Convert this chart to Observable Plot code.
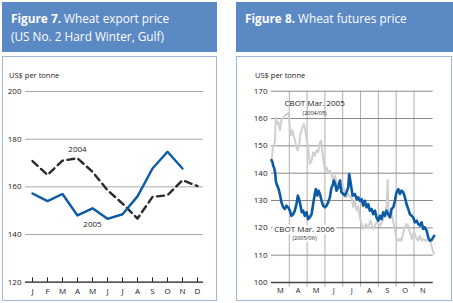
<!DOCTYPE html>
<html><head><meta charset="utf-8">
<script src="https://cdn.jsdelivr.net/npm/d3@7"></script>
<script src="https://cdn.jsdelivr.net/npm/@observablehq/plot@0.6"></script>
<style>
body{margin:0;background:#fff;font-family:"Open Sans",sans-serif;}
#page{position:relative;width:453px;height:303px;overflow:hidden;}
.hdr{position:absolute;background:#5b89c3;color:#fff;font-size:11.8px;line-height:18px;padding:7px 0 0 9px;box-sizing:border-box;}
.hdr b{font-weight:700;}
.box{position:absolute;border:1.5px solid #9db9dd;box-sizing:border-box;}
.unit{position:absolute;font-size:7.5px;color:#222;}
.chart{position:absolute;top:0;}
</style></head>
<body><div id="page">
<div class="hdr" style="left:2px;top:2px;width:215px;height:50px"><b>Figure 7.</b> Wheat export price<br>(US No. 2 Hard Winter, Gulf)</div>
<div class="hdr" style="left:236px;top:2px;width:217px;height:50px"><b>Figure 8.</b> Wheat futures price</div>
<div class="box" style="left:2px;top:56px;width:215px;height:245px"></div>
<div class="box" style="left:236px;top:56px;width:216px;height:245px"></div>
<div class="unit" style="left:9px;top:70px">US$ per tonne</div>
<div class="unit" style="left:255px;top:70px">US$ per tonne</div>
<div id="c1" class="chart" style="left:0"></div>
<div id="c2" class="chart" style="left:226px"></div>
</div>
<script>
// Figure 7 data
const months = ["J","F","M","A","M2","J2","J3","A2","S","O","N","D"];
const monthLabels = ["J","F","M","A","M","J","J","A","S","O","N","D"];
const price2004 = [170.8, 165, 171, 172, 166.3, 158.6, 153, 146.7, 155.8, 156.5, 162.8, 160.3];
const price2005 = [157.2, 154, 157, 148, 151, 146.6, 148.5, 156, 167.7, 174.7, 167.7, null];
const yTicks7 = [120, 140, 160, 180, 200];

// Figure 8 data (t = months since 1 March)
const grayT = [0.00,0.09,0.19,0.24,0.32,0.39,0.47,0.56,0.69,0.84,0.94,1.03,1.10,1.18,1.27,1.37,1.46,1.55,1.63,1.74,1.82,1.89,1.97,2.06,2.15,2.25,2.34,2.43,2.53,2.62,2.72,2.79,2.87,2.94,3.01,3.09,3.18,3.28,3.37,3.46,3.56,3.65,3.75,3.84,3.93,4.03,4.12,4.21,4.31,4.40,4.49,4.59,4.68,4.78,4.87,4.96,5.06,5.15,5.30,5.43,5.56,5.71,5.81,5.94,6.09,6.24,6.37,6.46,6.52,6.57,6.65,6.74,6.84,6.93,7.02,7.12,7.21,7.30,7.43,7.58,7.68,7.77,7.88,8.00,8.11,8.24,8.33,8.43,8.52,8.67,8.80,8.93,9.04,9.12];
const grayV = [144.6,150,151.3,160.2,158,158.6,155.6,159.5,160.5,161.7,162,157.4,153.8,155.6,153.2,150.7,148.3,150.1,154.4,156.8,158,156.2,152.5,149.5,143.4,144.6,147.7,146.4,148.3,147.7,151.3,151.9,147,143.4,140.9,142.1,140.3,140.9,139.7,137.3,139.1,136.7,134.8,136,137.3,134.8,133,131.2,132.4,131.5,131.2,127.5,130,126.3,128,123.8,121.4,119.6,121.4,120.2,122.6,119.6,120.8,122.6,120.8,122.6,125,128,137.5,126,123.8,125.7,122,119.6,115.9,115.3,115.9,115.3,119,121.4,120.8,118.3,115.9,119,116.5,115.3,117.1,115.3,115.9,115.3,115.9,114.7,112.2,110.4];
const blueT = [0.00,0.06,0.09,0.15,0.21,0.24,0.28,0.37,0.47,0.56,0.66,0.75,0.84,0.94,1.03,1.12,1.22,1.31,1.40,1.48,1.55,1.63,1.70,1.78,1.87,1.97,2.06,2.15,2.25,2.34,2.43,2.49,2.57,2.64,2.72,2.81,2.90,3.00,3.09,3.18,3.28,3.37,3.43,3.50,3.58,3.65,3.75,3.84,3.93,4.03,4.12,4.21,4.31,4.36,4.44,4.55,4.68,4.78,4.87,4.96,5.06,5.15,5.24,5.34,5.43,5.52,5.62,5.71,5.81,5.90,5.99,6.09,6.18,6.27,6.37,6.46,6.55,6.65,6.74,6.84,6.93,7.02,7.12,7.21,7.30,7.40,7.49,7.58,7.68,7.77,7.87,7.96,8.05,8.15,8.24,8.33,8.43,8.52,8.61,8.71,8.80,8.90,8.99,9.08,9.14];
const blueV = [144.8,144,142.8,141.9,140,137.3,136.1,134.8,132.4,129.3,127.5,126.9,128.1,127.5,126.3,124.4,125,126.3,128.7,131.8,130.5,128.1,125.7,126.3,124.4,125.7,123.2,123.8,125,128.7,132.4,134.2,131.8,133.6,132.4,129.9,128.1,127.5,128.1,129.3,131.2,134.8,135.4,137.3,136,133.6,134.8,137.3,133,132.4,131.8,133,134.8,139.7,136.7,131.8,132.4,130.5,131.2,129.9,130.5,128.1,129.9,127.5,128.7,126.3,126.9,125,126.3,123.8,122.6,124.4,123.2,125.7,124.4,126.3,125,123.8,126.9,127.5,129.9,133,134.2,132.4,133.6,133,131.2,128.7,126.9,125,124.4,123.8,122,122.6,121.4,120.8,122,119.6,120.2,119,116.5,115.3,115.5,116.5,117.1];
const monthMid8 = [0.5,1.5,2.5,3.5,4.5,5.5,6.5,7.5,8.5];
const monthLabels8 = ["M","A","M","J","J","A","S","O","N"];
const monthBounds8 = [1,2,3,4,5,6,7,8];
const yTicks8 = [100,110,120,130,140,150,160,170];

const ink = "#1a1a1a";
const blue = "#0b5aa6";

// Figure 7
const d2004 = months.map((m,i)=>({m, v: price2004[i]}));
const d2005 = months.map((m,i)=>({m, v: price2005[i]})).filter(d=>d.v!=null);
const fig7 = Plot.plot({
  width: 226, height: 303,
  marginTop: 91, marginBottom: 21.3, marginLeft: 25, marginRight: 23,
  style: {fontFamily: "Open Sans, sans-serif", fontSize: "8px", color: ink, background: "transparent", overflow: "visible"},
  x: {type: "point", domain: months, padding: 0.43, axis: null},
  y: {domain: [120, 200], axis: null},
  marks: [
    Plot.ruleY(yTicks7.filter(d=>d>120), {stroke: "#a8a8a8", strokeWidth: 1}),
    Plot.ruleY([120], {stroke: ink, strokeWidth: 1.3}),
    Plot.ruleX(months, {x: d=>d, y1: 120, y2: 121.8, stroke: ink, strokeWidth: 1}),
    Plot.axisY({ticks: yTicks7, tickSize: 0, tickPadding: 4, fontSize: 8, label: null}),
    Plot.axisX({tickSize: 0, tickPadding: 6, tickFormat: (d)=>monthLabels[months.indexOf(d)], fontSize: 8, label: null}),
    Plot.line(d2004, {x: "m", y: "v", stroke: "#2b2b2b", strokeWidth: 2.4, strokeDasharray: "7,4.5"}),
    Plot.line(d2005, {x: "m", y: "v", stroke: blue, strokeWidth: 2.4}),
    Plot.text(["2004"], {x: ["A"], y: [175.5], fontSize: 8, fill: ink}),
    Plot.text(["2005"], {x: ["M2"], y: [144.3], fontSize: 8, fill: ink})
  ]
});
document.getElementById("c1").append(fig7);

// Figure 8
const gray = grayT.map((t,i)=>({t, v: grayV[i]}));
const blu = blueT.map((t,i)=>({t, v: blueV[i]}));
const fig8 = Plot.plot({
  width: 227, height: 303,
  marginTop: 90.7, marginBottom: 21, marginLeft: 45, marginRight: 20.3,
  style: {fontFamily: "Open Sans, sans-serif", fontSize: "8px", color: ink, background: "transparent", overflow: "visible"},
  x: {domain: [0, 9.08], axis: null},
  y: {domain: [100, 170], axis: null},
  marks: [
    Plot.ruleX(monthBounds8, {y1: 98.3, y2: 170, stroke: "#b0b0b0", strokeWidth: 1}),
    Plot.ruleY(yTicks8.filter(d=>d>100), {stroke: "#8a8a8a", strokeWidth: 1}),
    Plot.ruleY([100], {stroke: "#444", strokeWidth: 1.3}),
    Plot.axisY({ticks: yTicks8, tickSize: 0, tickPadding: 4, fontSize: 8, label: null}),
    Plot.axisX({ticks: monthMid8, tickSize: 0, tickPadding: 5, tickFormat: (d)=>monthLabels8[monthMid8.indexOf(d)], fontSize: 7.5, label: null}),
    Plot.line(gray, {x: "t", y: "v", stroke: "#cfcfcf", strokeWidth: 2}),
    Plot.line(blu, {x: "t", y: "v", stroke: blue, strokeWidth: 2.6}),
    Plot.text(["CBOT Mar. 2005"], {x: [2.42], y: [165.4], fontSize: 8, fill: ink}),
    Plot.text(["(2004/05)"], {x: [2.42], y: [162.1], fontSize: 5.5, fill: ink}),
    Plot.text(["CBOT Mar. 2006"], {x: [1.85], y: [119.3], fontSize: 8, fill: ink, stroke: "white", strokeWidth: 5}),
    Plot.text(["(2005/06)"], {x: [1.85], y: [116.2], fontSize: 5.5, fill: ink, stroke: "white", strokeWidth: 3})
  ]
});
document.getElementById("c2").append(fig8);
</script>
</body></html>
